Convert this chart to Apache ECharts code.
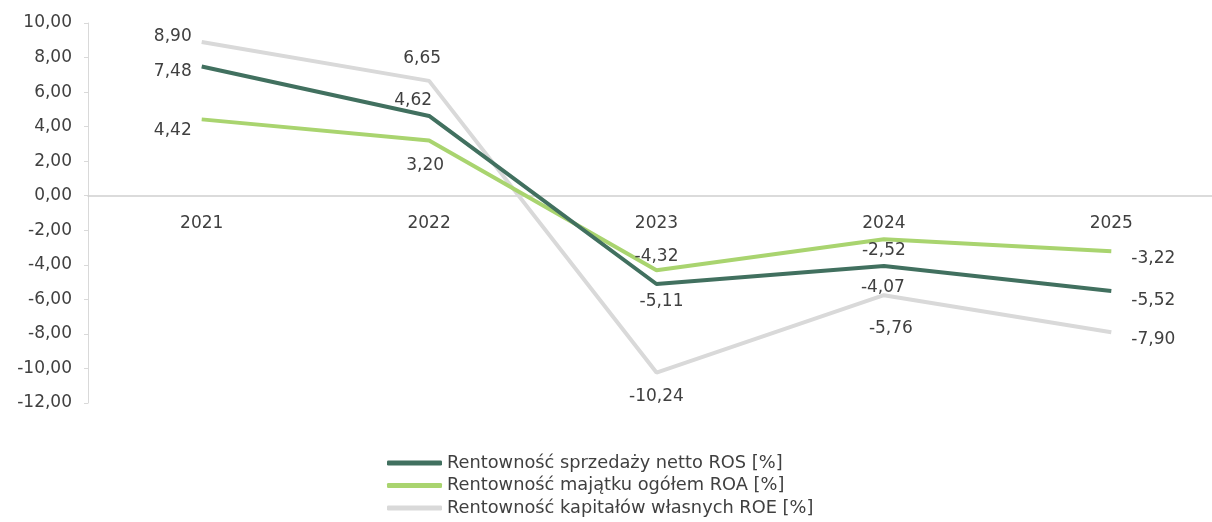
<!DOCTYPE html>
<html>
<head>
<meta charset="utf-8">
<script src="https://cdn.jsdelivr.net/npm/echarts@6/dist/echarts.min.js"></script>
<style>html,body{margin:0;padding:0;background:#fff}#c{width:1212px;height:522px}</style>
</head>
<body>
<div id="c"></div>
<script>
var categories = ['2021', '2022', '2023', '2024', '2025'];
var seriesNames = [
  'Rentowność sprzedaży netto ROS [%]',
  'Rentowność majątku ogółem ROA [%]',
  'Rentowność kapitałów własnych ROE [%]'
];
var rosValues = [7.48, 4.62, -5.11, -4.07, -5.52];
var roaValues = [4.42, 3.20, -4.32, -2.52, -3.22];
var roeValues = [8.90, 6.65, -10.24, -5.76, -7.90];

// label placement: [position, dx, dy]
var rosLabelPos = [['left', 0, 5], ['top', -16, 3], ['bottom', 5, -1], ['bottom', -1, 3], ['right', 10, 10]];
var roaLabelPos = [['left', 0, 11], ['bottom', -4, 7], ['top', 0, 5], ['inside', 0, 11], ['right', 10, 7]];
var roeLabelPos = [['left', 0, -5], ['top', -7, -4], ['bottom', 0, 5], ['bottom', 7, 15], ['right', 10, 7]];

function fmt(v) { return v.toFixed(2).replace('.', ','); }
var FONT = '"DejaVu Sans", Verdana, sans-serif';
var TXT = '#404040';
var FS = 17;

function mk(vals, pos) {
  return vals.map(function (v, i) {
    return { value: v, label: { position: pos[i][0], offset: [pos[i][1], pos[i][2]] } };
  });
}

function series(name, vals, pos, color, z) {
  return {
    name: name,
    type: 'line',
    data: mk(vals, pos),
    symbol: 'circle',
    symbolSize: 0,
    showSymbol: true,
    z: z,
    lineStyle: { color: color, width: 4 },
    itemStyle: { color: color },
    label: {
      show: true,
      formatter: function (p) { return fmt(p.value); },
      color: TXT,
      fontFamily: FONT,
      fontSize: FS,
      distance: 10
    },
    emphasis: { disabled: true },
    animation: false
  };
}

var chart = echarts.init(document.getElementById('c'));
chart.setOption({
  animation: false,
  grid: { left: 88, top: 23, width: 1137, height: 380, outerBoundsMode: 'none', containLabel: false },
  legend: {
    orient: 'vertical',
    left: 382,
    top: 449,
    icon: 'roundRect',
    itemWidth: 55,
    itemHeight: 5,
    itemGap: 4.5,
    data: seriesNames,
    textStyle: { color: TXT, fontFamily: FONT, fontSize: 17.8 }
  },
  xAxis: {
    type: 'category',
    data: categories,
    boundaryGap: true,
    offset: -207.3,
    axisLine: { onZero: false, lineStyle: { color: '#d0d0d0', width: 1.5 } },
    axisTick: { show: false },
    axisLabel: { color: TXT, fontFamily: FONT, fontSize: FS, margin: 19 }
  },
  yAxis: {
    type: 'value',
    min: -12,
    max: 10,
    interval: 2,
    axisLine: { show: true, lineStyle: { color: '#d9d9d9' } },
    axisTick: { show: true, length: 4, lineStyle: { color: '#d9d9d9' } },
    splitLine: { show: false },
    axisLabel: {
      color: TXT, fontFamily: FONT, fontSize: FS, margin: 16,
      formatter: function (v) { return fmt(v); }
    }
  },
  series: [
    series(seriesNames[0], rosValues, rosLabelPos, '#41705f', 3),
    series(seriesNames[1], roaValues, roaLabelPos, '#a9d46f', 2),
    series(seriesNames[2], roeValues, roeLabelPos, '#d9d9d9', 1)
  ]
});
</script>
</body>
</html>
